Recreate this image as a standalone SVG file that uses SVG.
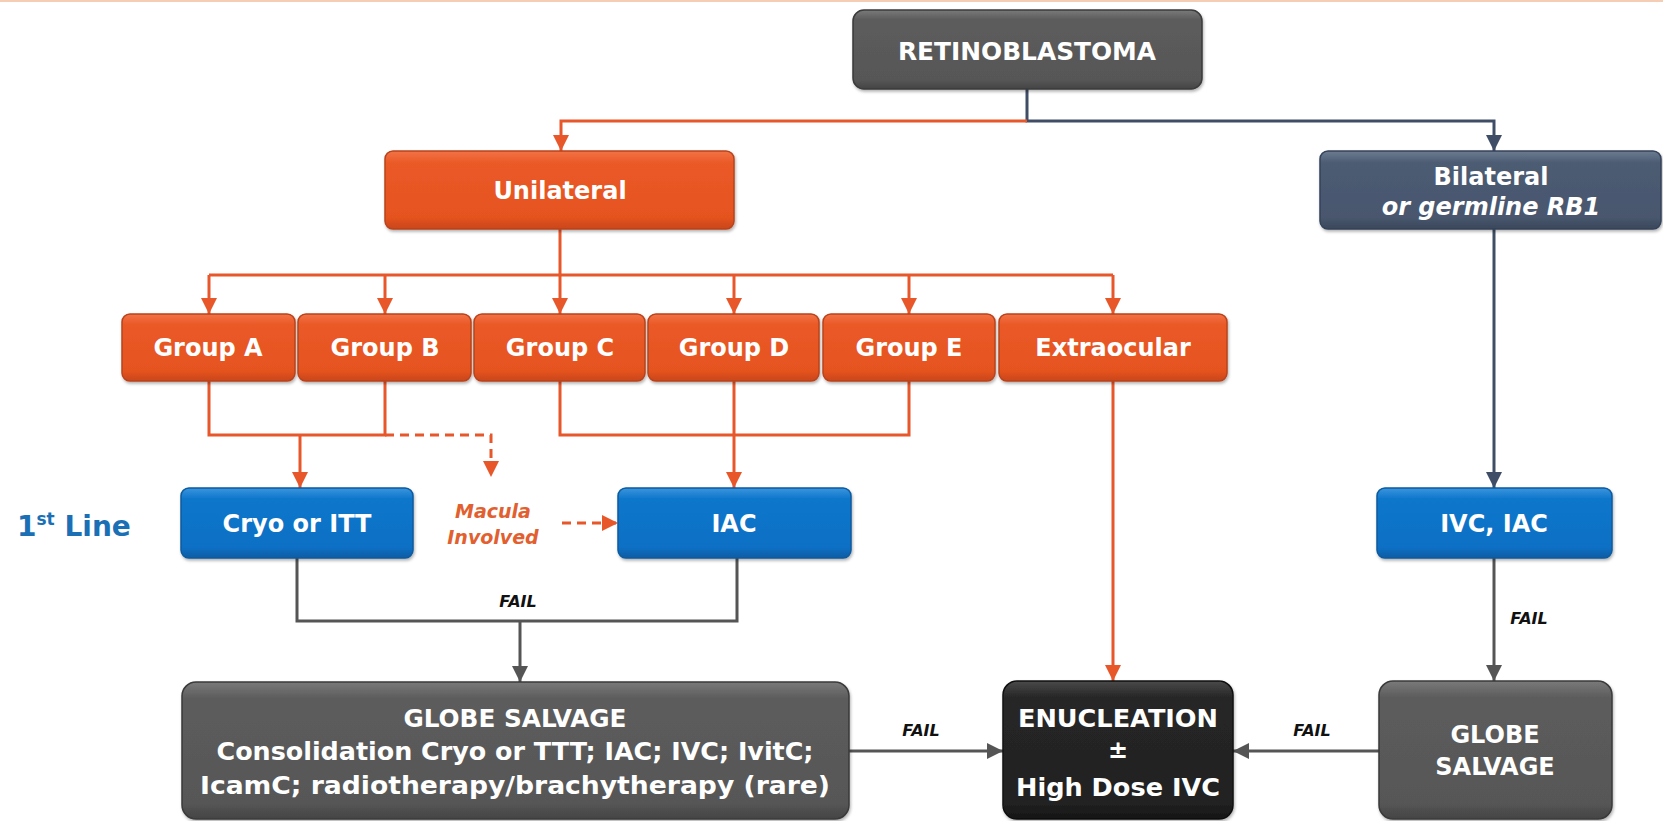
<svg xmlns="http://www.w3.org/2000/svg" width="1663" height="821" viewBox="0 0 1663 821">
<style>
.t{font-family:"DejaVu Sans","Verdana",sans-serif;font-weight:bold;fill:#fff;text-anchor:middle;font-size:24px}
.s{font-family:"DejaVu Sans Condensed","DejaVu Sans",sans-serif;font-size:25px}
.fail{font-family:"DejaVu Sans",sans-serif;font-weight:bold;font-style:italic;font-size:16px;fill:#111;text-anchor:middle}
.mac{font-family:"DejaVu Sans",sans-serif;font-weight:bold;font-style:italic;font-size:19px;fill:#E2602F;text-anchor:middle}
.lo{stroke:#E8572A;stroke-width:3;fill:none}
.ls{stroke:#3F4E66;stroke-width:3;fill:none}
.lg{stroke:#555;stroke-width:3;fill:none}
.o{fill:url(#go);stroke:#B8431C;stroke-width:1.5}
.b{fill:url(#gb);stroke:#0A5A9E;stroke-width:1.5}
.g{fill:url(#gg);stroke:#3a3a3a;stroke-width:1.5}
.sl{fill:url(#gs);stroke:#34425a;stroke-width:1.5}
.k{fill:url(#gk);stroke:#111;stroke-width:1.5}
</style>
<defs>
<linearGradient id="go" x1="0" y1="0" x2="0" y2="1"><stop offset="0" stop-color="#F27347"/><stop offset="0.15" stop-color="#EA5A28"/><stop offset="0.85" stop-color="#E5531F"/><stop offset="1" stop-color="#C9461A"/></linearGradient>
<linearGradient id="gb" x1="0" y1="0" x2="0" y2="1"><stop offset="0" stop-color="#3A95DD"/><stop offset="0.15" stop-color="#1177CC"/><stop offset="0.85" stop-color="#0A70C4"/><stop offset="1" stop-color="#095CA3"/></linearGradient>
<linearGradient id="gg" x1="0" y1="0" x2="0" y2="1"><stop offset="0" stop-color="#7a7a7a"/><stop offset="0.12" stop-color="#5c5c5c"/><stop offset="0.88" stop-color="#575757"/><stop offset="1" stop-color="#444"/></linearGradient>
<linearGradient id="gs" x1="0" y1="0" x2="0" y2="1"><stop offset="0" stop-color="#6c7b90"/><stop offset="0.15" stop-color="#4C5C73"/><stop offset="0.85" stop-color="#48576D"/><stop offset="1" stop-color="#3a475b"/></linearGradient>
<linearGradient id="gk" x1="0" y1="0" x2="0" y2="1"><stop offset="0" stop-color="#4a4a4a"/><stop offset="0.12" stop-color="#262626"/><stop offset="0.88" stop-color="#222"/><stop offset="1" stop-color="#151515"/></linearGradient>
<filter id="sh" x="-5%" y="-10%" width="110%" height="130%"><feDropShadow dx="1" dy="2" stdDeviation="1.5" flood-color="#000" flood-opacity="0.3"/></filter>
<marker id="ao" markerUnits="userSpaceOnUse" markerWidth="16" markerHeight="16" refX="16" refY="8" orient="auto"><path d="M0,0 L16,8 L0,16 Z" fill="#E8572A"/></marker>
<marker id="as" markerUnits="userSpaceOnUse" markerWidth="16" markerHeight="16" refX="16" refY="8" orient="auto"><path d="M0,0 L16,8 L0,16 Z" fill="#3F4E66"/></marker>
<marker id="ag" markerUnits="userSpaceOnUse" markerWidth="16" markerHeight="16" refX="16" refY="8" orient="auto"><path d="M0,0 L16,8 L0,16 Z" fill="#555"/></marker>
</defs>
<rect width="1663" height="821" fill="#fff"/>
<line x1="0" y1="1" x2="1663" y2="1" stroke="#F5CDB5" stroke-width="2"/>

<g id="connectors">
<path class="ls" d="M1027,89 V121 H1494 V151" marker-end="url(#as)"/>
<path class="lo" d="M1027,121 H561 V151" marker-end="url(#ao)"/>
<path class="lo" d="M560,229 V275"/>
<path class="lo" d="M209,275 H1113"/>
<path class="lo" d="M209,275 V314" marker-end="url(#ao)"/>
<path class="lo" d="M385,275 V314" marker-end="url(#ao)"/>
<path class="lo" d="M560,275 V314" marker-end="url(#ao)"/>
<path class="lo" d="M734,275 V314" marker-end="url(#ao)"/>
<path class="lo" d="M909,275 V314" marker-end="url(#ao)"/>
<path class="lo" d="M1113,275 V314" marker-end="url(#ao)"/>
<path class="lo" d="M209,381 V435 H385 V381"/>
<path class="lo" d="M300,435 V488" marker-end="url(#ao)"/>
<path class="lo" d="M385,435 H491 V477" stroke-dasharray="9,6" marker-end="url(#ao)"/>
<path class="lo" d="M562,523 H618" stroke-dasharray="9,6" marker-end="url(#ao)"/>
<path class="lo" d="M560,381 V435 H909 V381"/>
<path class="lo" d="M734,381 V488" marker-end="url(#ao)"/>
<path class="lo" d="M1113,381 V681" marker-end="url(#ao)"/>
<path class="ls" d="M1494,229 V488" marker-end="url(#as)"/>
<path class="lg" d="M1494,558 V681" marker-end="url(#ag)"/>
<path class="lg" d="M297,558 V621 H737 V558"/>
<path class="lg" d="M520,621 V682" marker-end="url(#ag)"/>
<path class="lg" d="M849,751 H1003" marker-end="url(#ag)"/>
<path class="lg" d="M1379,751 H1233" marker-end="url(#ag)"/>
<text class="fail" x="518" y="607">FAIL</text>
<text class="fail" x="1529" y="624">FAIL</text>
<text class="fail" x="921" y="736">FAIL</text>
<text class="fail" x="1312" y="736">FAIL</text>
<text class="mac" x="493" y="518">Macula</text>
<text class="mac" x="493" y="544">Involved</text>
</g>

<g id="n-retino"><rect class="g" x="853" y="10" width="349" height="79" rx="11" filter="url(#sh)"/><text class="t" x="1027" y="60" font-size="26" textLength="258" lengthAdjust="spacingAndGlyphs">RETINOBLASTOMA</text></g>
<g id="n-unilateral"><rect class="o" x="385" y="151" width="349" height="78" rx="8" filter="url(#sh)"/><text class="t" x="560" y="199">Unilateral</text></g>
<g id="n-bilateral"><rect class="sl" x="1320" y="151" width="341" height="78" rx="8" filter="url(#sh)"/><text class="t" x="1491" y="185">Bilateral</text><text class="t" x="1491" y="215" font-style="italic">or germline  RB1</text></g>
<g id="n-groupA"><rect class="o" x="122" y="314" width="173" height="67" rx="8" filter="url(#sh)"/><text class="t" x="208" y="356">Group A</text></g>
<g id="n-groupB"><rect class="o" x="298" y="314" width="173" height="67" rx="8" filter="url(#sh)"/><text class="t" x="385" y="356">Group B</text></g>
<g id="n-groupC"><rect class="o" x="474" y="314" width="171" height="67" rx="8" filter="url(#sh)"/><text class="t" x="560" y="356">Group C</text></g>
<g id="n-groupD"><rect class="o" x="648" y="314" width="171" height="67" rx="8" filter="url(#sh)"/><text class="t" x="734" y="356">Group D</text></g>
<g id="n-groupE"><rect class="o" x="823" y="314" width="172" height="67" rx="8" filter="url(#sh)"/><text class="t" x="909" y="356">Group E</text></g>
<g id="n-extra"><rect class="o" x="999" y="314" width="228" height="67" rx="8" filter="url(#sh)"/><text class="t" x="1113" y="356">Extraocular</text></g>
<g id="n-firstline"><text x="17" y="536" font-family="DejaVu Sans,sans-serif" font-weight="bold" font-size="28" fill="#1A6FB5">1<tspan font-size="17" dy="-11">st</tspan><tspan dy="11"> Line</tspan></text></g>
<g id="n-cryo"><rect class="b" x="181" y="488" width="232" height="70" rx="8" filter="url(#sh)"/><text class="t" x="297" y="532">Cryo or ITT</text></g>
<g id="n-iac"><rect class="b" x="618" y="488" width="233" height="70" rx="8" filter="url(#sh)"/><text class="t" x="734" y="532">IAC</text></g>
<g id="n-ivciac"><rect class="b" x="1377" y="488" width="235" height="70" rx="8" filter="url(#sh)"/><text class="t" x="1494" y="532">IVC, IAC</text></g>
<g id="n-globe1"><rect class="g" x="182" y="682" width="667" height="137" rx="14" filter="url(#sh)"/><text class="t s" x="515" y="727" textLength="223" lengthAdjust="spacingAndGlyphs">GLOBE SALVAGE</text><text class="t s" x="515" y="760" textLength="597" lengthAdjust="spacingAndGlyphs">Consolidation  Cryo or TTT; IAC; IVC; IvitC;</text><text class="t s" x="515" y="794" textLength="630" lengthAdjust="spacingAndGlyphs">IcamC; radiotherapy/brachytherapy  (rare)</text></g>
<g id="n-enuc"><rect class="k" x="1003" y="681" width="230" height="138" rx="14" filter="url(#sh)"/><text class="t" x="1118" y="727" textLength="200" lengthAdjust="spacingAndGlyphs">ENUCLEATION</text><text class="t" x="1118" y="758">±</text><text class="t" x="1118" y="796" textLength="204" lengthAdjust="spacingAndGlyphs">High  Dose IVC</text></g>
<g id="n-globe2"><rect class="g" x="1379" y="681" width="233" height="138" rx="14" filter="url(#sh)"/><text class="t" x="1495" y="743">GLOBE</text><text class="t" x="1495" y="775">SALVAGE</text></g>
</svg>
